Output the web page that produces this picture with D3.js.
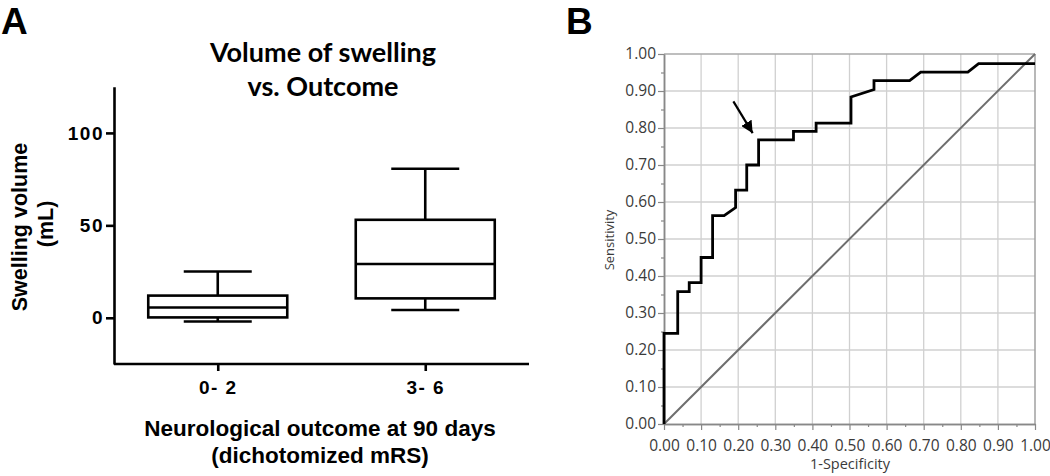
<!DOCTYPE html>
<html><head><meta charset="utf-8">
<script src="https://cdn.jsdelivr.net/npm/d3@7"></script>
<style>body{margin:0;background:#fff}svg{display:block}</style>
</head><body><svg id="c" width="1050" height="476"></svg>
<script>
// ---- Panel A data ----
const categories = ["0- 2", "3- 6"];
const boxMin    = [-2, 4.2];
const boxQ1     = [0.2, 10.5];
const boxMedian = [5.6, 29.1];
const boxQ3     = [12, 53];
const boxMax    = [25, 80.6];
const yTicksA   = [0, 50, 100];

// ---- Panel B data (ROC) ----
const rocFpr = [0,0,0.037,0.037,0.068,0.068,0.1,0.1,0.131,0.131,0.162,0.193,0.193,0.223,0.223,0.255,0.255,0.349,0.349,0.41,0.41,0.504,0.504,0.566,0.566,0.662,0.692,0.819,0.848,1];
const rocTpr = [0,0.245,0.245,0.358,0.358,0.382,0.382,0.45,0.45,0.563,0.563,0.585,0.632,0.632,0.70,0.70,0.768,0.768,0.791,0.791,0.813,0.813,0.884,0.904,0.928,0.928,0.951,0.951,0.974,0.974];
const ticksB = [0,0.1,0.2,0.3,0.4,0.5,0.6,0.7,0.8,0.9,1.0];
const minorB = [0.05,0.15,0.25,0.35,0.45,0.55,0.65,0.75,0.85,0.95];
const arrowFrom = [0.187, 0.872];
const arrowTo   = [0.239, 0.786];

const svg = d3.select("#c");

// ================= Panel A =================
const A = svg.append("g");
const yA = d3.scaleLinear().domain([-25,125]).range([364,86.7]);
const xA = d3.scalePoint().domain(categories).range([114,529]).padding(0.5);
const boxW = 139, capW = 68;
const sw = 2.6;

A.append("text").attr("x",1).attr("y",34).text("A")
 .attr("font-family","Liberation Sans, Arial").attr("font-weight","bold").attr("font-size",37);

A.append("text").attr("x",323).attr("y",62).attr("text-anchor","middle")
 .attr("font-family","Lato").attr("font-weight","bold").attr("font-size",27).text("Volume of swelling");
A.append("text").attr("x",323).attr("y",96).attr("text-anchor","middle")
 .attr("font-family","Lato").attr("font-weight","bold").attr("font-size",27).text("vs. Outcome");

const yAxA = A.append("g").attr("transform","translate(114,0)")
 .call(d3.axisLeft(yA).tickValues(yTicksA).tickSize(8).tickSizeOuter(0).tickPadding(2));
yAxA.select(".domain").attr("stroke","#000").attr("stroke-width",sw);
yAxA.selectAll(".tick line").attr("stroke","#000").attr("stroke-width",sw);
yAxA.selectAll(".tick text").attr("font-family","Liberation Sans, Arial").attr("font-weight","bold")
 .attr("font-size",19).attr("letter-spacing","1.5px").attr("fill","#000");

const xAxA = A.append("g").attr("transform","translate(0,364)")
 .call(d3.axisBottom(xA).tickSize(7).tickSizeOuter(0).tickPadding(10));
xAxA.select(".domain").attr("stroke","#000").attr("stroke-width",sw).attr("d","M114,0H529");
xAxA.selectAll(".tick line").attr("stroke","#000").attr("stroke-width",sw);
xAxA.selectAll(".tick text").attr("font-family","Liberation Sans, Arial").attr("font-weight","bold")
 .attr("font-size",19).attr("letter-spacing","1.5px").attr("fill","#000");

// y label
A.append("text").attr("transform","translate(27,227) rotate(-90)").attr("text-anchor","middle")
 .attr("font-family","Liberation Sans, Arial").attr("font-weight","bold").attr("font-size",21.5).text("Swelling volume");
A.append("text").attr("transform","translate(53,224) rotate(-90)").attr("text-anchor","middle")
 .attr("font-family","Liberation Sans, Arial").attr("font-weight","bold").attr("font-size",21.5).text("(mL)");

// x label
A.append("text").attr("x",320).attr("y",436).attr("text-anchor","middle")
 .attr("font-family","Liberation Sans, Arial").attr("font-weight","bold").attr("font-size",22.5).text("Neurological outcome at 90 days");
A.append("text").attr("x",320).attr("y",463).attr("text-anchor","middle")
 .attr("font-family","Liberation Sans, Arial").attr("font-weight","bold").attr("font-size",22.5).text("(dichotomized mRS)");

// boxes
categories.forEach((c,i)=>{
  const cx = xA(c);
  const g = A.append("g").attr("stroke","#000").attr("stroke-width",sw).attr("fill","none");
  g.append("line").attr("x1",cx).attr("x2",cx).attr("y1",yA(boxMax[i])).attr("y2",yA(boxQ3[i]));
  g.append("line").attr("x1",cx).attr("x2",cx).attr("y1",yA(boxQ1[i])).attr("y2",yA(boxMin[i]));
  g.append("line").attr("x1",cx-capW/2).attr("x2",cx+capW/2).attr("y1",yA(boxMax[i])).attr("y2",yA(boxMax[i]));
  g.append("line").attr("x1",cx-capW/2).attr("x2",cx+capW/2).attr("y1",yA(boxMin[i])).attr("y2",yA(boxMin[i]));
  g.append("rect").attr("x",cx-boxW/2).attr("width",boxW).attr("y",yA(boxQ3[i])).attr("height",yA(boxQ1[i])-yA(boxQ3[i])).attr("fill","#fff");
  g.append("line").attr("x1",cx-boxW/2).attr("x2",cx+boxW/2).attr("y1",yA(boxMedian[i])).attr("y2",yA(boxMedian[i]));
});

// ================= Panel B =================
const B = svg.append("g");
const xB = d3.scaleLinear().domain([0,1]).range([664,1035]);
const yB = d3.scaleLinear().domain([0,1]).range([424,54]);
const fontB = "Open Sans, Noto Sans, sans-serif";

B.append("text").attr("x",566).attr("y",34).text("B")
 .attr("font-family","Liberation Sans, Arial").attr("font-weight","bold").attr("font-size",37);

// grid
B.append("g").selectAll("line").data(ticksB.slice(1,-1)).join("line")
 .attr("x1",d=>xB(d)).attr("x2",d=>xB(d)).attr("y1",yB(0)).attr("y2",yB(1)).attr("stroke","#d0d0d0").attr("stroke-width",1.3);
B.append("g").selectAll("line").data(ticksB.slice(1,-1)).join("line")
 .attr("y1",d=>yB(d)).attr("y2",d=>yB(d)).attr("x1",xB(0)).attr("x2",xB(1)).attr("stroke","#d0d0d0").attr("stroke-width",1.3);
// top & right border
B.append("line").attr("x1",xB(0)).attr("x2",xB(1)).attr("y1",yB(1)).attr("y2",yB(1)).attr("stroke","#a8a8a8").attr("stroke-width",1.3);
B.append("line").attr("x1",xB(1)).attr("x2",xB(1)).attr("y1",yB(0)).attr("y2",yB(1)).attr("stroke","#a0a0a0").attr("stroke-width",1.5);

// axes
const fmt = d3.format(".2f");
const xAxB = B.append("g").attr("transform",`translate(0,${yB(0)})`)
 .call(d3.axisBottom(xB).tickValues(ticksB).tickFormat(fmt).tickSize(6).tickSizeOuter(0).tickPadding(10));
const xMinB = B.append("g").attr("transform",`translate(0,${yB(0)})`)
 .call(d3.axisBottom(xB).tickValues(minorB).tickFormat("").tickSize(3).tickSizeOuter(0));
const yAxB = B.append("g").attr("transform",`translate(${xB(0)},0)`)
 .call(d3.axisLeft(yB).tickValues(ticksB).tickFormat(fmt).tickSize(6).tickSizeOuter(0).tickPadding(2));
const yMinB = B.append("g").attr("transform",`translate(${xB(0)},0)`)
 .call(d3.axisLeft(yB).tickValues(minorB).tickFormat("").tickSize(3).tickSizeOuter(0));
[xAxB,xMinB,yAxB,yMinB].forEach(a=>{
  a.select(".domain").attr("stroke","#888").attr("stroke-width",1.5);
  a.selectAll(".tick line").attr("stroke","#888").attr("stroke-width",1.2);
  a.selectAll(".tick text").attr("font-family",fontB).attr("font-size",15.5).attr("fill","#3a3a3a");
});

B.append("text").attr("x",850).attr("y",469).attr("text-anchor","middle")
 .attr("font-family",fontB).attr("font-size",14.5).attr("fill","#3a3a3a").text("1-Specificity");
B.append("text").attr("transform","translate(614,240) rotate(-90)").attr("text-anchor","middle")
 .attr("font-family",fontB).attr("font-size",13).attr("fill","#3a3a3a").text("Sensitivity");

// diagonal
B.append("line").attr("x1",xB(0)).attr("y1",yB(0)).attr("x2",xB(1)).attr("y2",yB(1))
 .attr("stroke","#6e6e6e").attr("stroke-width",2);

// ROC curve
const rocPts = rocFpr.map((f,i)=>[f,rocTpr[i]]);
B.append("path").datum(rocPts)
 .attr("d",d3.line().x(d=>xB(d[0])).y(d=>yB(d[1])))
 .attr("fill","none").attr("stroke","#000").attr("stroke-width",2.8).attr("stroke-linejoin","miter");

// arrow
const defs = svg.append("defs");
defs.append("marker").attr("id","ah").attr("viewBox","0 0 10 10").attr("refX",10).attr("refY",5)
 .attr("markerWidth",5.5).attr("markerHeight",5.5).attr("markerUnits","strokeWidth").attr("orient","auto")
 .append("path").attr("d","M0,0L10,5L0,10Z").attr("fill","#000");
B.append("line").attr("x1",xB(arrowFrom[0])).attr("y1",yB(arrowFrom[1]))
 .attr("x2",xB(arrowTo[0])).attr("y2",yB(arrowTo[1]))
 .attr("stroke","#000").attr("stroke-width",2.2).attr("marker-end","url(#ah)");
</script></body></html>
